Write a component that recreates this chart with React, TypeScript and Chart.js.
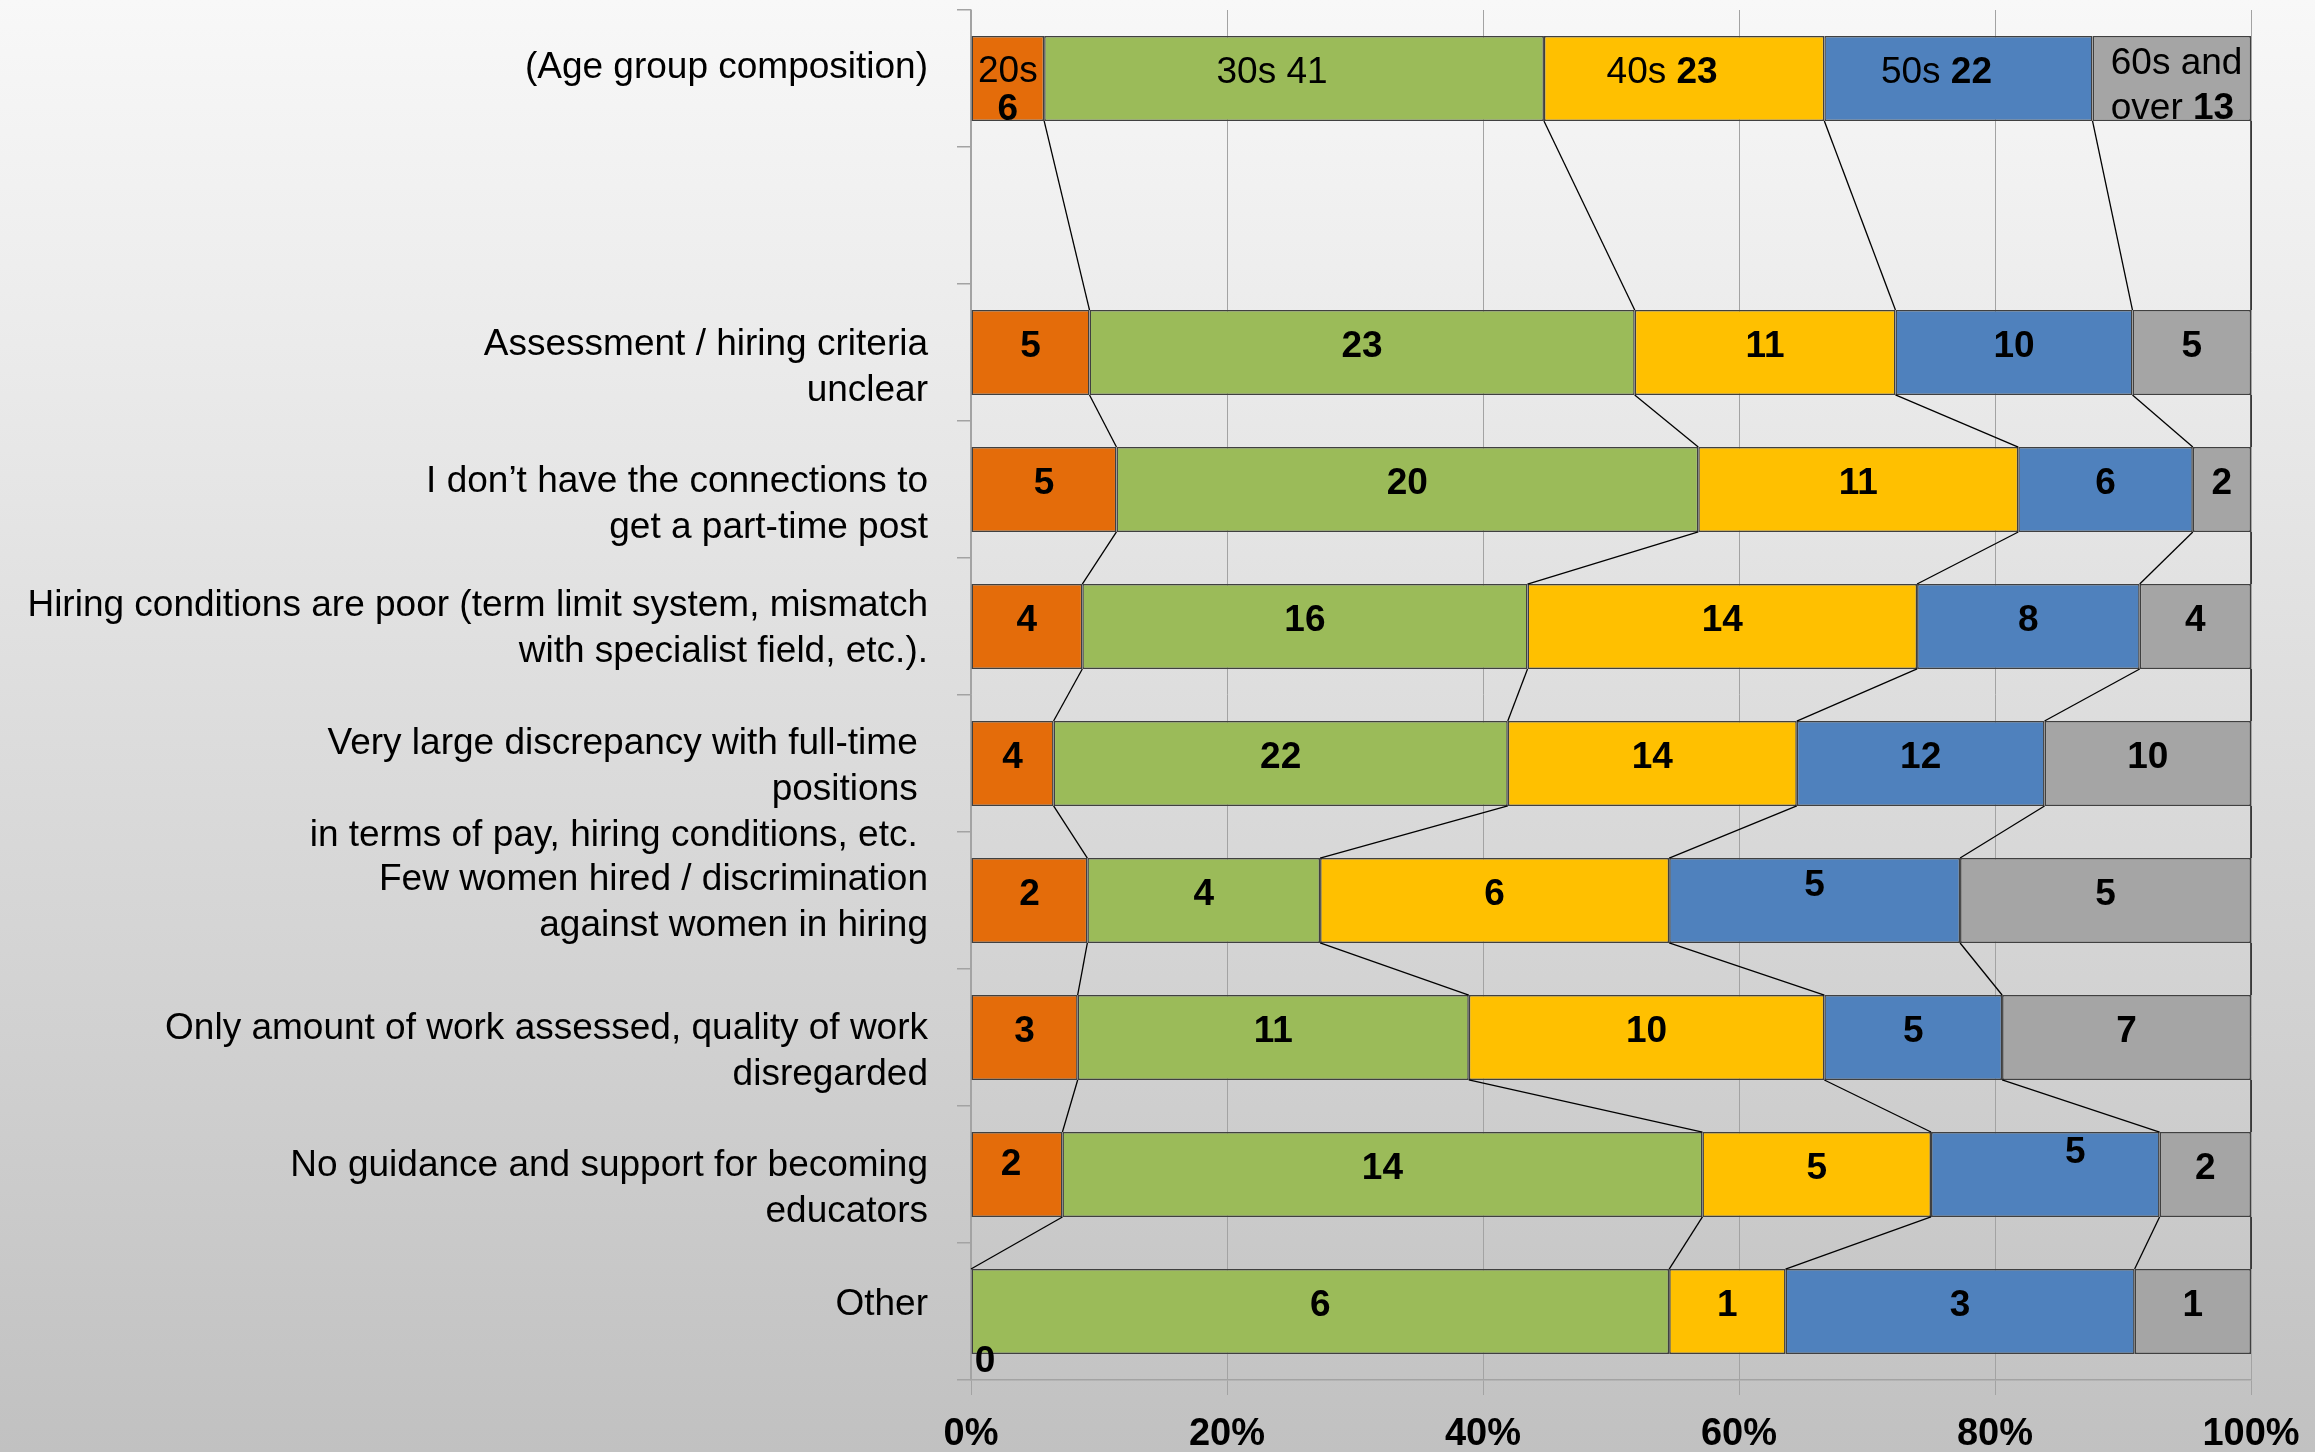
import React, { useEffect, useRef } from 'react';
import { Chart, registerables } from 'chart.js';

Chart.register(...registerables);

// ---------- data ----------
const categories: string[][] = [
  ['(Age group composition)'],
  [''],
  ['Assessment / hiring criteria', 'unclear'],
  ['I don\u2019t have the connections to', 'get a part-time post'],
  ['Hiring conditions are poor (term limit system, mismatch', 'with specialist field, etc.).'],
  ['Very large discrepancy with full-time ', 'positions ', 'in terms of pay, hiring conditions, etc. '],
  ['Few women hired / discrimination', 'against women in hiring'],
  ['Only amount of work assessed, quality of work', 'disregarded'],
  ['No guidance and support for becoming', 'educators'],
  ['Other'],
];

const seriesNames = ['20s', '30s', '40s', '50s', '60s and over'];
const age20s = [6, null, 5, 5, 4, 4, 2, 3, 2, 0];
const age30s = [41, null, 23, 20, 16, 22, 4, 11, 14, 6];
const age40s = [23, null, 11, 11, 14, 14, 6, 10, 5, 1];
const age50s = [22, null, 10, 6, 8, 12, 5, 5, 5, 3];
const age60s = [13, null, 5, 2, 4, 10, 5, 7, 2, 1];
const percentTickStep = 20;

// ---------- styles ----------
const FONT = "'Liberation Sans', Arial, Helvetica, sans-serif";
const colors = ['#E46C0A', '#9BBB59', '#FFC000', '#4F81BD', '#A5A5A5'];
const GRID = '#a3a3a3';
const LABEL_SIZE = 37;

const series = [age20s, age30s, age40s, age50s, age60s];
const totals = categories.map((_, i) => series.reduce((s, a) => s + ((a[i] as number | null) ?? 0), 0));
const percents = series.map((a) => a.map((v, i) => (v == null ? null : ((v as number) / totals[i]) * 100)));

type Run = { t: string; b?: boolean };

// rich text for the composition row (row 0)
function compositionRuns(d: number): Run[][] {
  const v = String(series[d][0]);
  if (d === 0) return [[{ t: seriesNames[0] }], [{ t: v, b: true }]];
  if (d === 1) return [[{ t: seriesNames[1] + ' ' + v }]];
  if (d === 4) return [[{ t: '60s and' }], [{ t: 'over ' }, { t: v, b: true }]];
  return [[{ t: seriesNames[d] + ' ' }, { t: v, b: true }]];
}

const DEFAULT_DY = -6;
const labelTweaks: Record<string, { dx?: number; dy?: number; align?: 'left' | 'center'; gap?: number }> = {
  '0-0': { dy: -7, gap: 38 },
  '0-1': { dx: -22, dy: -6 },
  '0-2': { dx: -22, dy: -6 },
  '0-3': { dx: -22, dy: -6 },
  '0-4': { dx: -61, dy: -15, align: 'left', gap: 45 },
  '6-3': { dy: -15 },
  '8-0': { dx: -6, dy: -10 },
  '8-3': { dx: 30, dy: -22 },
  '9-0': { dx: 14, dy: 50 },
};

const yLabelShift = [-11, 0, 15, 15, 2, 26, 2, 14, 14, -7];

const backgroundPlugin = {
  id: 'bg',
  beforeDraw(chart: any) {
    const { ctx, width, height } = chart;
    ctx.save();
    const g = ctx.createLinearGradient(0, 0, 0, height);
    g.addColorStop(0, '#f8f8f8');
    g.addColorStop(1, '#c1c1c1');
    ctx.fillStyle = g;
    ctx.fillRect(0, 0, width, height);
    ctx.restore();
  },
};

const yLabelShiftPlugin = {
  id: 'yshift',
  beforeDraw(chart: any) {
    const scale = chart.scales.y;
    if (!scale || typeof scale.getLabelItems !== 'function') return;
    const items = scale.getLabelItems(chart.chartArea);
    if (!items || items.__shifted) return;
    items.forEach((it: any, i: number) => {
      it.textOffset += yLabelShift[i] || 0;
    });
    items.__shifted = true;
  },
};

const seriesLinesPlugin = {
  id: 'serieslines',
  afterDatasetsDraw(chart: any) {
    const ctx = chart.ctx;
    const rows = categories.map((_, i) => i).filter((i) => series[0][i] != null);
    ctx.save();
    ctx.strokeStyle = '#000';
    ctx.lineWidth = 1.3;
    for (let k = 0; k < rows.length - 1; k++) {
      const a = rows[k];
      const b = rows[k + 1];
      for (let d = 0; d < series.length; d++) {
        const ea = chart.getDatasetMeta(d).data[a];
        const eb = chart.getDatasetMeta(d).data[b];
        if (!ea || !eb) continue;
        ctx.beginPath();
        ctx.moveTo(ea.x, ea.y + ea.height / 2);
        ctx.lineTo(eb.x, eb.y - eb.height / 2);
        ctx.stroke();
      }
    }
    ctx.restore();
  },
};

const dataLabelsPlugin = {
  id: 'datalabels',
  afterDatasetsDraw(chart: any) {
    const ctx = chart.ctx;
    ctx.save();
    ctx.fillStyle = '#000';
    ctx.textBaseline = 'middle';
    ctx.textAlign = 'left';
    for (let d = 0; d < series.length; d++) {
      const meta = chart.getDatasetMeta(d);
      for (let r = 0; r < categories.length; r++) {
        const v = series[d][r];
        if (v == null) continue;
        const el = meta.data[r];
        if (!el) continue;
        const tw = labelTweaks[`${r}-${d}`] || {};
        const cx = (el.base + el.x) / 2 + (tw.dx ?? 0);
        const cy = el.y + (tw.dy ?? DEFAULT_DY);
        const lines: Run[][] = r === 0 ? compositionRuns(d) : [[{ t: String(v), b: true }]];
        const gap = tw.gap ?? 44;
        lines.forEach((runs, li) => {
          const widths = runs.map((run) => {
            ctx.font = `${run.b ? 'bold ' : ''}${LABEL_SIZE}px ${FONT}`;
            return ctx.measureText(run.t).width;
          });
          const total = widths.reduce((s, w) => s + w, 0);
          let x = tw.align === 'left' ? cx : cx - total / 2;
          const y = cy + li * gap;
          runs.forEach((run, ri) => {
            ctx.font = `${run.b ? 'bold ' : ''}${LABEL_SIZE}px ${FONT}`;
            ctx.fillText(run.t, x, y);
            x += widths[ri];
          });
        });
      }
    }
    ctx.restore();
  },
};

export default function App() {
  const canvasRef = useRef<HTMLCanvasElement | null>(null);

  useEffect(() => {
    const canvas = canvasRef.current;
    if (!canvas) return;
    Chart.defaults.font.family = FONT;
    Chart.defaults.color = '#000';
    const chart = new Chart(canvas, {
      type: 'bar',
      data: {
        labels: categories as any,
        datasets: series.map((_, d) => ({
          label: seriesNames[d],
          data: percents[d] as any,
          backgroundColor: colors[d],
          borderColor: '#404040',
          borderWidth: 1.5,
          borderSkipped: false,
          barPercentage: 0.62,
          categoryPercentage: 1,
        })),
      },
      options: {
        indexAxis: 'y',
        responsive: false,
        animation: false,
        devicePixelRatio: 1,
        layout: { padding: { top: 10, right: 64, left: 0, bottom: 0 } },
        plugins: {
          legend: { display: false },
          tooltip: { enabled: false },
        },
        scales: {
          x: {
            stacked: true,
            min: 0,
            max: 100,
            ticks: {
              stepSize: percentTickStep,
              callback: (v: any) => `${v}%`,
              font: { size: 38, weight: 'bold' },
              color: '#000',
              padding: 17,
              maxRotation: 0,
              autoSkip: false,
            },
            grid: { color: GRID, lineWidth: 1, tickLength: 15, tickColor: GRID },
            border: { display: true, color: GRID, width: 1.5 },
            afterFit: (s: any) => {
              s.height = 72;
              s.paddingLeft = 0;
              s.paddingRight = 0;
            },
          } as any,
          y: {
            stacked: true,
            ticks: {
              font: { size: LABEL_SIZE, lineHeight: 1.24 },
              color: '#000',
              padding: 29,
              autoSkip: false,
            },
            grid: { drawOnChartArea: false, drawTicks: true, tickLength: 14, tickColor: GRID, lineWidth: 1.5 },
            border: { display: true, color: GRID, width: 1.5 },
            afterFit: (s: any) => {
              s.width = 971;
              s.paddingTop = 0;
              s.paddingBottom = 0;
            },
          } as any,
        },
      },
      plugins: [backgroundPlugin, yLabelShiftPlugin, seriesLinesPlugin, dataLabelsPlugin],
    });
    return () => chart.destroy();
  }, []);

  return (
    <div style={{ position: 'fixed', left: 0, top: 0, width: 2315, height: 1452 }}>
      <canvas ref={canvasRef} width={2315} height={1452} style={{ display: 'block', width: 2315, height: 1452 }} />
    </div>
  );
}
